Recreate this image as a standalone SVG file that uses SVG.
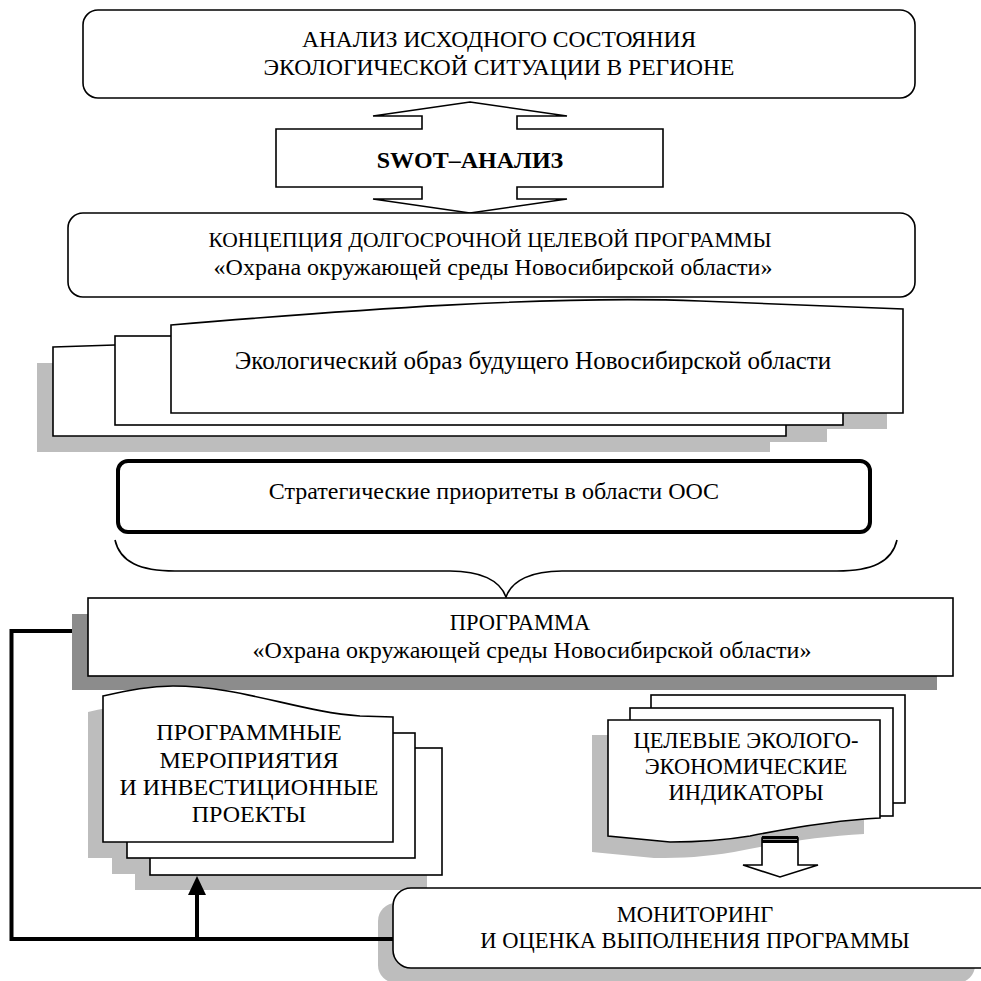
<svg xmlns="http://www.w3.org/2000/svg" width="981" height="981" viewBox="0 0 981 981">
<style>
.box{fill:#fff;stroke:#000;stroke-width:1.6}
.sh{fill:#bdbdbd;stroke:none}
.shd{fill:#8c8c8c;stroke:none}
.t{font-family:"Liberation Serif","Times New Roman",serif;font-size:24px;fill:#000;text-anchor:middle}
.thick{fill:none;stroke:#000;stroke-width:4}
</style>
<rect width="981" height="981" fill="#fff"/>

<g id="analysis">
<rect class="box" x="83" y="10" width="832" height="88" rx="15"/>
<text class="t" x="499" y="47" style="font-size:23.5px">АНАЛИЗ ИСХОДНОГО СОСТОЯНИЯ</text>
<text class="t" x="499" y="75" style="font-size:23.5px">ЭКОЛОГИЧЕСКОЙ СИТУАЦИИ В РЕГИОНЕ</text>
</g>

<g id="swot">
<polygon class="box" points="470,102 567,116 517,116 517,129 663,129 663,187 517,187 517,199 567,199 470,213 373,199 422,199 422,187 276,187 276,129 422,129 422,116 373,116"/>
<text class="t" x="470" y="168" style="font-weight:bold">SWOT–АНАЛИЗ</text>
</g>

<g id="concept">
<rect class="box" x="68" y="213" width="847" height="84" rx="15"/>
<text class="t" x="490" y="247" style="font-size:21.5px">КОНЦЕПЦИЯ ДОЛГОСРОЧНОЙ ЦЕЛЕВОЙ ПРОГРАММЫ</text>
<text class="t" x="493" y="275">«Охрана окружающей среды Новосибирской области»</text>
</g>

<g id="image">
<rect class="sh" x="37" y="363" width="733" height="89"/>
<rect class="sh" x="99" y="353" width="728" height="89"/>
<path class="sh" d="M155,341 C335,326 535,311 684,317 C800,321 850,324 887,325 V429 H155 Z"/>
<path class="box" d="M53,347 L115,345 L786,345 V436 H53 Z"/>
<rect class="box" x="115" y="336" width="728" height="89"/>
<path class="box" d="M171,325 C351,310 551,295 700,301 C816,305 866,308 903,309 V413 H171 Z"/>
<text class="t" x="533" y="369" style="font-size:25px">Экологический образ будущего Новосибирской области</text>
</g>

<g id="priorities">
<rect x="118" y="461" width="752" height="71" rx="10" fill="#fff" stroke="#000" stroke-width="4"/>
<text class="t" x="494" y="499">Стратегические приоритеты в области ООС</text>
</g>

<g id="brace">
<path d="M115,540 C120,562 140,571 175,571 H450 C480,571 500,580 506,597 C512,580 532,571 562,571 H837 C872,571 892,562 897,540" fill="none" stroke="#000" stroke-width="1.6"/>
</g>

<g id="program">
<rect class="shd" x="72" y="614" width="865" height="76"/>
<rect class="box" x="88" y="598" width="865" height="78"/>
<text class="t" x="520" y="630" style="font-size:22.5px">ПРОГРАММА</text>
<text class="t" x="532" y="658">«Охрана окружающей среды Новосибирской области»</text>
</g>

<g id="measures">
<rect class="sh" x="135" y="764" width="292" height="126"/>
<rect class="sh" x="112" y="749" width="288" height="125"/>
<path class="sh" d="M88,712 C115,706 135,702 158,702 C225,702 285,728 345,732 L378,733 V858 H88 Z"/>
<rect class="box" x="150" y="748" width="292" height="127"/>
<rect class="box" x="127" y="733" width="288" height="125"/>
<path class="box" d="M103,696 C130,690 150,686 173,686 C240,686 300,712 360,716 L393,717 V842 H103 Z"/>
<text class="t" x="249" y="740">ПРОГРАММНЫЕ</text>
<text class="t" x="249" y="768">МЕРОПРИЯТИЯ</text>
<text class="t" x="249" y="795">И ИНВЕСТИЦИОННЫЕ</text>
<text class="t" x="249" y="822">ПРОЕКТЫ</text>
</g>

<g id="indicators">
<path class="sh" d="M592,735 H864 V834 C824,836 784,842 734,852 C704,857 684,858 654,858 L592,852 Z"/>
<rect class="box" x="651" y="695" width="254" height="108"/>
<rect class="box" x="630" y="708" width="263" height="108"/>
<path class="box" d="M608,720 H880 V818 C840,820 800,826 750,836 C720,841 700,842 670,842 L608,836 Z"/>
<text class="t" x="746" y="748" style="font-size:22.5px">ЦЕЛЕВЫЕ ЭКОЛОГО-</text>
<text class="t" x="746" y="774" style="font-size:22.5px">ЭКОНОМИЧЕСКИЕ</text>
<text class="t" x="746" y="800" style="font-size:22.5px">ИНДИКАТОРЫ</text>
</g>

<g id="monitoring">
<rect class="sh" x="378" y="903" width="597" height="80" rx="18"/>
<rect class="box" x="393" y="888" width="610" height="80" rx="18"/>
<text class="t" x="695" y="922" style="font-size:22.5px">МОНИТОРИНГ</text>
<text class="t" x="695" y="948" style="font-size:22.5px">И ОЦЕНКА ВЫПОЛНЕНИЯ ПРОГРАММЫ</text>
</g>

<g id="connectors">
<polygon class="box" points="762,838 798,838 798,865 818,865 780,877 743,865 762,865"/>
<rect x="762" y="836" width="36" height="7" fill="#000"/>
<line x1="763" y1="839.5" x2="797" y2="839.5" stroke="#999" stroke-width="1"/>
<path class="thick" d="M393,939 H11.5 V631 H72"/>
<path class="thick" d="M197,939 V893"/>
<polygon points="188,895 206,895 197,876" fill="#000"/>
</g>
</svg>
